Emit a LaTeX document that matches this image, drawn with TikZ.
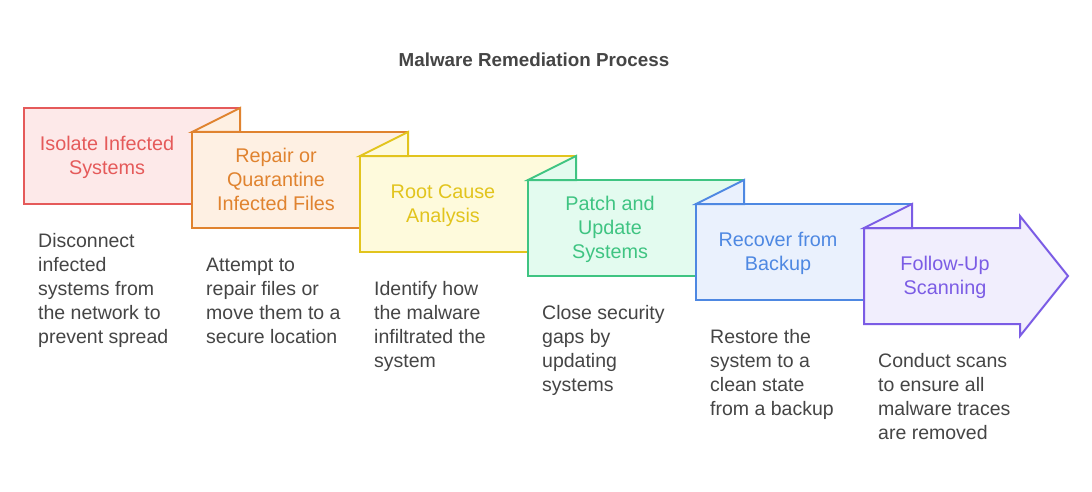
\documentclass[tikz,border=0pt]{standalone}
\usepackage{fontspec}
\setmainfont{Liberation Sans}
\definecolor{cRs}{HTML}{E55A5A}\definecolor{cRf}{HTML}{FDE9E9}
\definecolor{cOs}{HTML}{E0832F}\definecolor{cOf}{HTML}{FEF0E3}
\definecolor{cYs}{HTML}{E2C41D}\definecolor{cYf}{HTML}{FEFADC}
\definecolor{cGs}{HTML}{3FC482}\definecolor{cGf}{HTML}{E3FBEF}
\definecolor{cBs}{HTML}{4E88E2}\definecolor{cBf}{HTML}{EAF1FD}
\definecolor{cPs}{HTML}{7B5CE5}\definecolor{cPf}{HTML}{F1EEFD}
\definecolor{bodytxt}{HTML}{454545}
\begin{document}
\begin{tikzpicture}[x=1pt,y=-1pt,
  shp/.style={line width=2pt, line join=miter},
  lbl/.style={anchor=base, align=center, inner sep=0pt, font=\fontsize{19.8}{24}\selectfont},
  body/.style={anchor=base west, align=left, inner sep=0pt, text=bodytxt, font=\fontsize{19.5}{24}\selectfont},
  ttl/.style={anchor=base, inner sep=0pt, text=bodytxt, font=\fontsize{18.8}{22}\selectfont\bfseries}]
\useasboundingbox[fill=white] (0,0) rectangle (1092,492);
\node[ttl] (title) at (534,66.7) {Malware Remediation Process};
% step 1
\draw[shp, draw=cRs, fill=cRf] (24,108) rectangle (240,204);
% step 2
\draw[shp, draw=cOs, fill=cOf] (192,132) rectangle (408,228);
\draw[shp, draw=cOs, fill=cOf] (192,132) -- (240,108) -- (240,132) -- cycle;
% step 3
\draw[shp, draw=cYs, fill=cYf] (360,156) rectangle (576,252);
\draw[shp, draw=cYs, fill=cYf] (360,156) -- (408,132) -- (408,156) -- cycle;
% step 4
\draw[shp, draw=cGs, fill=cGf] (528,180) rectangle (744,276);
\draw[shp, draw=cGs, fill=cGf] (528,180) -- (576,156) -- (576,180) -- cycle;
% step 5
\draw[shp, draw=cBs, fill=cBf] (696,204) rectangle (912,300);
\draw[shp, draw=cBs, fill=cBf] (696,204) -- (744,180) -- (744,204) -- cycle;
% step 6
\draw[shp, draw=cPs, fill=cPf] (864,228) -- (1020,228) -- (1020,216) -- (1068,276) -- (1020,336) -- (1020,324) -- (864,324) -- cycle;
\draw[shp, draw=cPs, fill=cPf] (864,228) -- (912,204) -- (912,228) -- cycle;
% labels (anchor = baseline of last line)
\node[lbl, text=cRs] (l1) at (107,174.7) {Isolate Infected\\Systems};
\node[lbl, text=cOs] (l2) at (276,210.7) {Repair or\\Quarantine\\Infected Files};
\node[lbl, text=cYs] (l3) at (443,222.7) {Root Cause\\Analysis};
\node[lbl, text=cGs] (l4) at (610,258.7) {Patch and\\Update\\Systems};
\node[lbl, text=cBs] (l5) at (778,270.7) {Recover from\\Backup};
\node[lbl, text=cPs] (l6) at (945,294.7) {Follow-Up\\Scanning};
% descriptions (anchor = baseline of last line)
\node[body] (d1) at (38,343) {Disconnect\\infected\\systems from\\the network to\\prevent spread};
\node[body] (d2) at (206,343) {Attempt to\\repair files or\\move them to a\\secure location};
\node[body] (d3) at (374,367) {Identify how\\the malware\\infiltrated the\\system};
\node[body] (d4) at (542,391) {Close security\\gaps by\\updating\\systems};
\node[body] (d5) at (710,415) {Restore the\\system to a\\clean state\\from a backup};
\node[body] (d6) at (878,439) {Conduct scans\\to ensure all\\malware traces\\are removed};
\end{tikzpicture}
\end{document}
